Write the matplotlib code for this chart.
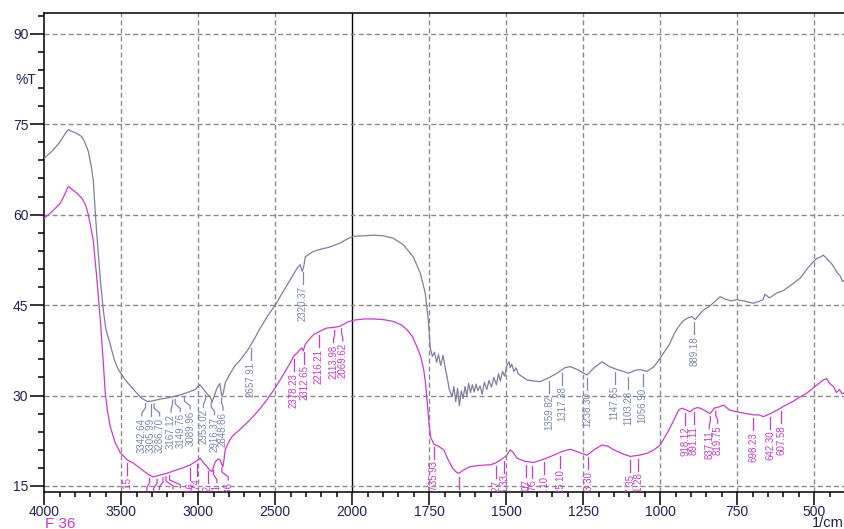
import numpy as np
import matplotlib
matplotlib.use('Agg')
import matplotlib.pyplot as plt
from matplotlib.ticker import FixedLocator

plt.rcParams['font.family'] = ['Liberation Sans', 'DejaVu Sans']

# --- espectros (numero de onda 1/cm, %T) ---
wn_top = [4000, 3950, 3900, 3860, 3844, 3820, 3790, 3760, 3740, 3714, 3695, 3682, 3668, 3656, 3636,
          3617, 3600, 3571, 3545, 3519, 3474, 3420, 3370, 3330, 3300, 3250, 3200, 3150, 3117, 3060,
          3020, 2990, 2965, 2940, 2922, 2910, 2895, 2879, 2860, 2848, 2838, 2825, 2792, 2760, 2727,
          2680, 2640, 2597, 2550, 2500, 2450, 2400, 2359, 2338, 2325, 2315, 2305, 2253, 2200, 2150,
          2078, 2030, 1997, 1960, 1932, 1900, 1867, 1834, 1802, 1779, 1763, 1753, 1747, 1740, 1733,
          1726, 1720, 1713, 1705, 1698, 1692, 1685, 1676, 1670, 1664, 1658, 1652, 1646, 1640, 1634,
          1628, 1622, 1616, 1610, 1604, 1598, 1592, 1585, 1578, 1571, 1563, 1556, 1548, 1540, 1532,
          1525, 1519, 1512, 1505, 1498, 1491, 1487, 1482, 1475, 1468, 1461, 1450, 1433, 1410, 1390,
          1360, 1335, 1310, 1292, 1265, 1238, 1215, 1189, 1165, 1140, 1120, 1103, 1080, 1065, 1043,
          1020, 1000, 970, 955, 941, 925, 913, 897, 886, 872, 859, 840, 816, 805, 790,
          770, 751, 720, 698, 680, 666, 660, 645, 622, 600, 568, 545, 520, 503, 490,
          478, 471, 460, 452, 444, 435, 424, 415, 408, 400]
t_top = [69.4, 70.5, 72.0, 73.6, 74.1, 73.8, 73.5, 73.0, 72.2, 70.5, 68.0, 65.8, 60.0, 55.8, 49.2,
         44.2, 41.0, 38.4, 35.9, 34.3, 32.6, 31.0, 29.6, 29.0, 29.1, 29.4, 29.6, 29.9, 30.1, 30.6,
         31.0, 31.8, 31.0, 30.2, 29.8, 28.9, 30.0, 31.2, 32.0, 30.0, 30.3, 32.1, 33.7, 35.0, 35.9,
         37.5, 39.2, 41.2, 43.2, 45.0, 47.2, 49.3, 51.1, 51.7, 50.6, 51.4, 53.0, 53.9, 54.3, 54.6,
         55.3, 56.0, 56.4, 56.5, 56.6, 56.5, 56.1, 55.0, 53.0, 50.3, 47.0, 42.5, 38.0, 36.5, 37.2,
         35.5, 36.8, 35.0, 36.7, 34.5, 33.1, 31.0, 29.8, 31.5, 29.0, 31.2, 28.3, 30.8, 29.5, 31.5,
         30.0, 32.0, 30.5, 31.8, 30.6, 31.9, 30.8, 31.6, 30.2, 32.2, 31.0, 32.5, 31.4, 33.0, 31.8,
         33.6, 32.4, 34.0, 33.2, 35.0, 35.6, 34.6, 35.2, 34.0, 34.6, 33.6, 33.2, 32.6, 32.4, 32.3,
         33.0, 33.7, 34.6, 34.8, 34.2, 33.4, 34.6, 35.6, 34.8, 34.3, 34.0, 33.7, 34.2, 34.3, 34.0,
         34.8, 36.2, 38.5, 40.2, 41.4, 42.4, 42.8, 43.1, 42.6, 43.5, 44.2, 44.8, 45.9, 46.4, 46.0,
         45.7, 45.9, 45.6, 45.3, 45.6, 45.9, 46.8, 46.2, 47.0, 47.4, 48.6, 49.5, 51.2, 52.2, 52.8,
         53.0, 53.3, 52.8, 52.3, 51.9, 51.2, 50.3, 49.8, 48.9, 49.2]

wn_bot = [4000, 3950, 3896, 3870, 3844, 3820, 3790, 3755, 3730, 3714, 3695, 3682, 3658, 3636, 3615,
          3604, 3590, 3571, 3540, 3506, 3460, 3422, 3370, 3330, 3292, 3250, 3203, 3150, 3100, 3052,
          3020, 2987, 2965, 2943, 2925, 2911, 2900, 2890, 2870, 2857, 2846, 2840, 2832, 2825, 2800,
          2781, 2720, 2662, 2600, 2554, 2500, 2468, 2403, 2381, 2360, 2340, 2327, 2318, 2305, 2280,
          2251, 2216, 2165, 2120, 2078, 2030, 1996, 1960, 1931, 1900, 1867, 1840, 1822, 1805, 1790,
          1778, 1768, 1762, 1757, 1750, 1745, 1741, 1735, 1730, 1720, 1703, 1690, 1675, 1662, 1654,
          1640, 1617, 1590, 1560, 1552, 1535, 1519, 1500, 1487, 1478, 1465, 1440, 1411, 1380, 1346,
          1320, 1292, 1265, 1238, 1215, 1189, 1170, 1151, 1120, 1097, 1070, 1043, 1020, 1000, 975,
          955, 940, 929, 915, 903, 891, 880, 870, 855, 838, 825, 810, 794, 775, 751,
          720, 697, 680, 665, 642, 620, 600, 570, 545, 524, 500, 485, 470, 460, 450,
          437, 428, 418, 410, 405, 400]
t_bot = [59.4, 60.5, 61.9, 63.2, 64.7, 64.2, 63.6, 62.7, 61.5, 60.0, 57.5, 55.8, 49.2, 42.5, 34.8,
         30.4, 27.5, 24.8, 22.2, 20.5, 19.3, 18.8, 17.8, 17.0, 16.5, 16.8, 17.1, 17.6, 18.0, 18.5,
         19.0, 19.6, 18.8, 18.2, 17.6, 17.4, 18.2, 19.0, 19.5, 19.3, 18.5, 18.2, 19.5, 21.0, 22.4,
         23.2, 24.6, 26.0, 27.8, 29.3, 31.3, 32.6, 35.4, 36.5, 37.0, 37.6, 37.9, 37.4, 38.5, 39.3,
         40.1, 40.6, 41.2, 41.3, 41.5, 42.2, 42.5, 42.7, 42.7, 42.6, 42.3, 41.7, 40.9, 39.8, 38.1,
         36.5, 34.3, 32.0, 29.0, 25.0, 23.0, 22.6, 22.0, 21.8, 21.6, 21.0, 19.5, 18.0, 17.3, 17.1,
         17.6, 18.2, 18.4, 18.5, 18.5, 18.8, 19.3, 20.0, 21.0, 20.6, 19.6, 19.1, 18.9, 19.4, 20.1,
         20.7, 21.1, 20.6, 20.1, 21.0, 21.8, 21.6, 21.0, 20.3, 19.9, 20.1, 20.4, 21.0, 21.8, 24.0,
         26.0, 27.6, 27.9, 27.6, 27.3, 27.8, 28.0, 27.9, 27.5, 27.0, 27.9, 28.1, 28.4, 27.6, 27.3,
         27.0, 26.8, 26.8, 26.5, 27.0, 27.6, 28.2, 29.0, 29.8, 30.4, 31.4, 32.0, 32.6, 32.8, 32.0,
         31.5, 30.5, 31.0, 30.3, 30.4, 30.6]

# picos marcados
peaks_top = [3342.64, 3305.99, 3286.70, 3167.12, 3149.76, 3089.96, 2953.02, 2916.37, 2848.86,
             2657.91, 2320.37, 1359.82, 1317.38, 1238.30, 1147.65, 1103.28, 1056.90, 889.18]
peaks_bot = [3460.15, 3315.63, 3267.42, 3228.85, 3209.56, 3186.41, 3051.46, 3008.74, 2939.52,
             2900.91, 2846.86, 2378.23, 2312.65, 2216.21, 2113.98, 2069.62, 1735.93, 1654.52,
             1533.27, 1506.33, 1435.07, 1414.75, 1376.10, 1325.10, 1233.30, 1097.35, 1071.28,
             918.12, 891.11, 837.11, 819.75, 698.23, 642.30, 607.58]

x_major = [4000, 3500, 3000, 2500, 2000, 1750, 1500, 1250, 1000, 750, 500]
y_major = [15, 30, 45, 60, 75, 90]
sample_name = 'F 36'

# deslocamento horizontal (px) dos rotulos agrupados
shift_top = {3342.64: -3.6, 3286.70: 5.5, 3167.12: -1.5, 3149.76: 5.0, 3089.96: 5.8,
             2953.02: -2.0, 2916.37: 3.4, 2848.86: 1.4}
shift_bot = {3315.63: -2.7, 3267.42: -3.5, 3228.85: -3.5, 3209.56: 7.0, 3186.41: 10.7,
             2900.91: 3.3, 2846.86: 6.4, 2113.98: -1.2, 2069.62: 1.2,
             837.11: -1.2, 819.75: 2.0}

c_top = '#7e7e9e'
c_top_lbl = '#7d88ab'
c_bot = '#c83cc8'
navy = '#1e2452'


def fwd(w):
    w = np.asarray(w, dtype=float)
    return np.where(w <= 2000, w, 2000 + (w - 2000) / 2)


def inv(p):
    p = np.asarray(p, dtype=float)
    return np.where(p <= 2000, p, 2000 + (p - 2000) * 2)


fig = plt.figure(figsize=(8.45, 5.29), dpi=100)
ax = fig.add_axes([0.0524, 0.0705, 0.9476, 0.9044])
ax.set_xscale('function', functions=(fwd, inv))
ax.set_xlim(4000, 400)
ax.set_ylim(14.05, 93.4)

# grade
for x in x_major:
    if x == 2000:
        ax.axvline(x, color='black', lw=1.0, zorder=1)
    elif x != 4000:
        ax.axvline(x, color='#8a8a8a', lw=1.0, dashes=(3.6, 2.2), zorder=1)
for y in y_major:
    ax.axhline(y, color='#8a8a8a', lw=1.0, dashes=(3.6, 2.2), zorder=1)

ax.plot(wn_top, t_top, color=c_top, lw=0.9, zorder=3)
ax.plot(wn_bot, t_bot, color=c_bot, lw=0.9, zorder=3)


def mark_peaks(wn, tr, peaks, color, shifts, L=2.0, gap=0.55):
    xs = np.array(wn[::-1], dtype=float)
    ys = np.array(tr[::-1], dtype=float)
    for p in peaks:
        y0 = np.interp(p, xs, ys) - gap
        sh = shifts.get(p, 0.0)
        if sh:
            xd = ax.transData.transform((p, y0))[0] + sh
            xl = ax.transData.inverted().transform((xd, y0))[0]
            lx = [p, p, xl, xl]
            ly = [y0, y0 - 0.35 * L, y0 - 0.75 * L, y0 - L]
        else:
            xl = p
            lx = [p, p]
            ly = [y0, y0 - L]
        ax.plot(lx, ly, color=color, lw=0.9, zorder=4)
        ax.text(xl, y0 - L - 0.3, f'{p:.2f}', rotation=90, ha='center', va='top',
                fontsize=7.0, color=color, clip_on=True, zorder=4)


mark_peaks(wn_top, t_top, peaks_top, c_top_lbl, shift_top)
mark_peaks(wn_bot, t_bot, peaks_bot, c_bot, shift_bot)

# eixos
ax.xaxis.set_major_locator(FixedLocator(x_major))
ax.xaxis.set_minor_locator(FixedLocator(list(range(3900, 2000, -100)) + list(range(1950, 400, -50))))
ax.set_xticklabels([str(x) for x in x_major])
ax.yaxis.set_major_locator(FixedLocator(y_major))
ax.yaxis.set_minor_locator(FixedLocator(list(range(15, 94, 3))))

ax.tick_params(axis='y', which='major', direction='out', length=10, width=1.1,
               labelsize=10, labelcolor=navy, pad=1.5)
ax.tick_params(axis='y', which='minor', direction='out', length=4.3, width=1.1)
ax.tick_params(axis='x', which='major', direction='out', length=9, width=1.1,
               labelsize=10, labelcolor=navy, pad=0.5)
ax.tick_params(axis='x', which='minor', direction='out', length=3.6, width=1.1)

for s in ['left', 'bottom', 'top']:
    ax.spines[s].set_linewidth(1.1)
    ax.spines[s].set_color('black')
ax.spines['right'].set_visible(False)

fig.text(26 / 845, 1 - 80 / 529, '%T', ha='center', va='center', fontsize=10, color=navy)
fig.text(45 / 845, 1 - 523.5 / 529, sample_name, ha='left', va='center', fontsize=11, color=c_bot)
fig.text(1 - 1 / 845, 1 - 523 / 529, '1/cm', ha='right', va='center', fontsize=10.5, color=navy)

fig.savefig('out.png', dpi=100)
